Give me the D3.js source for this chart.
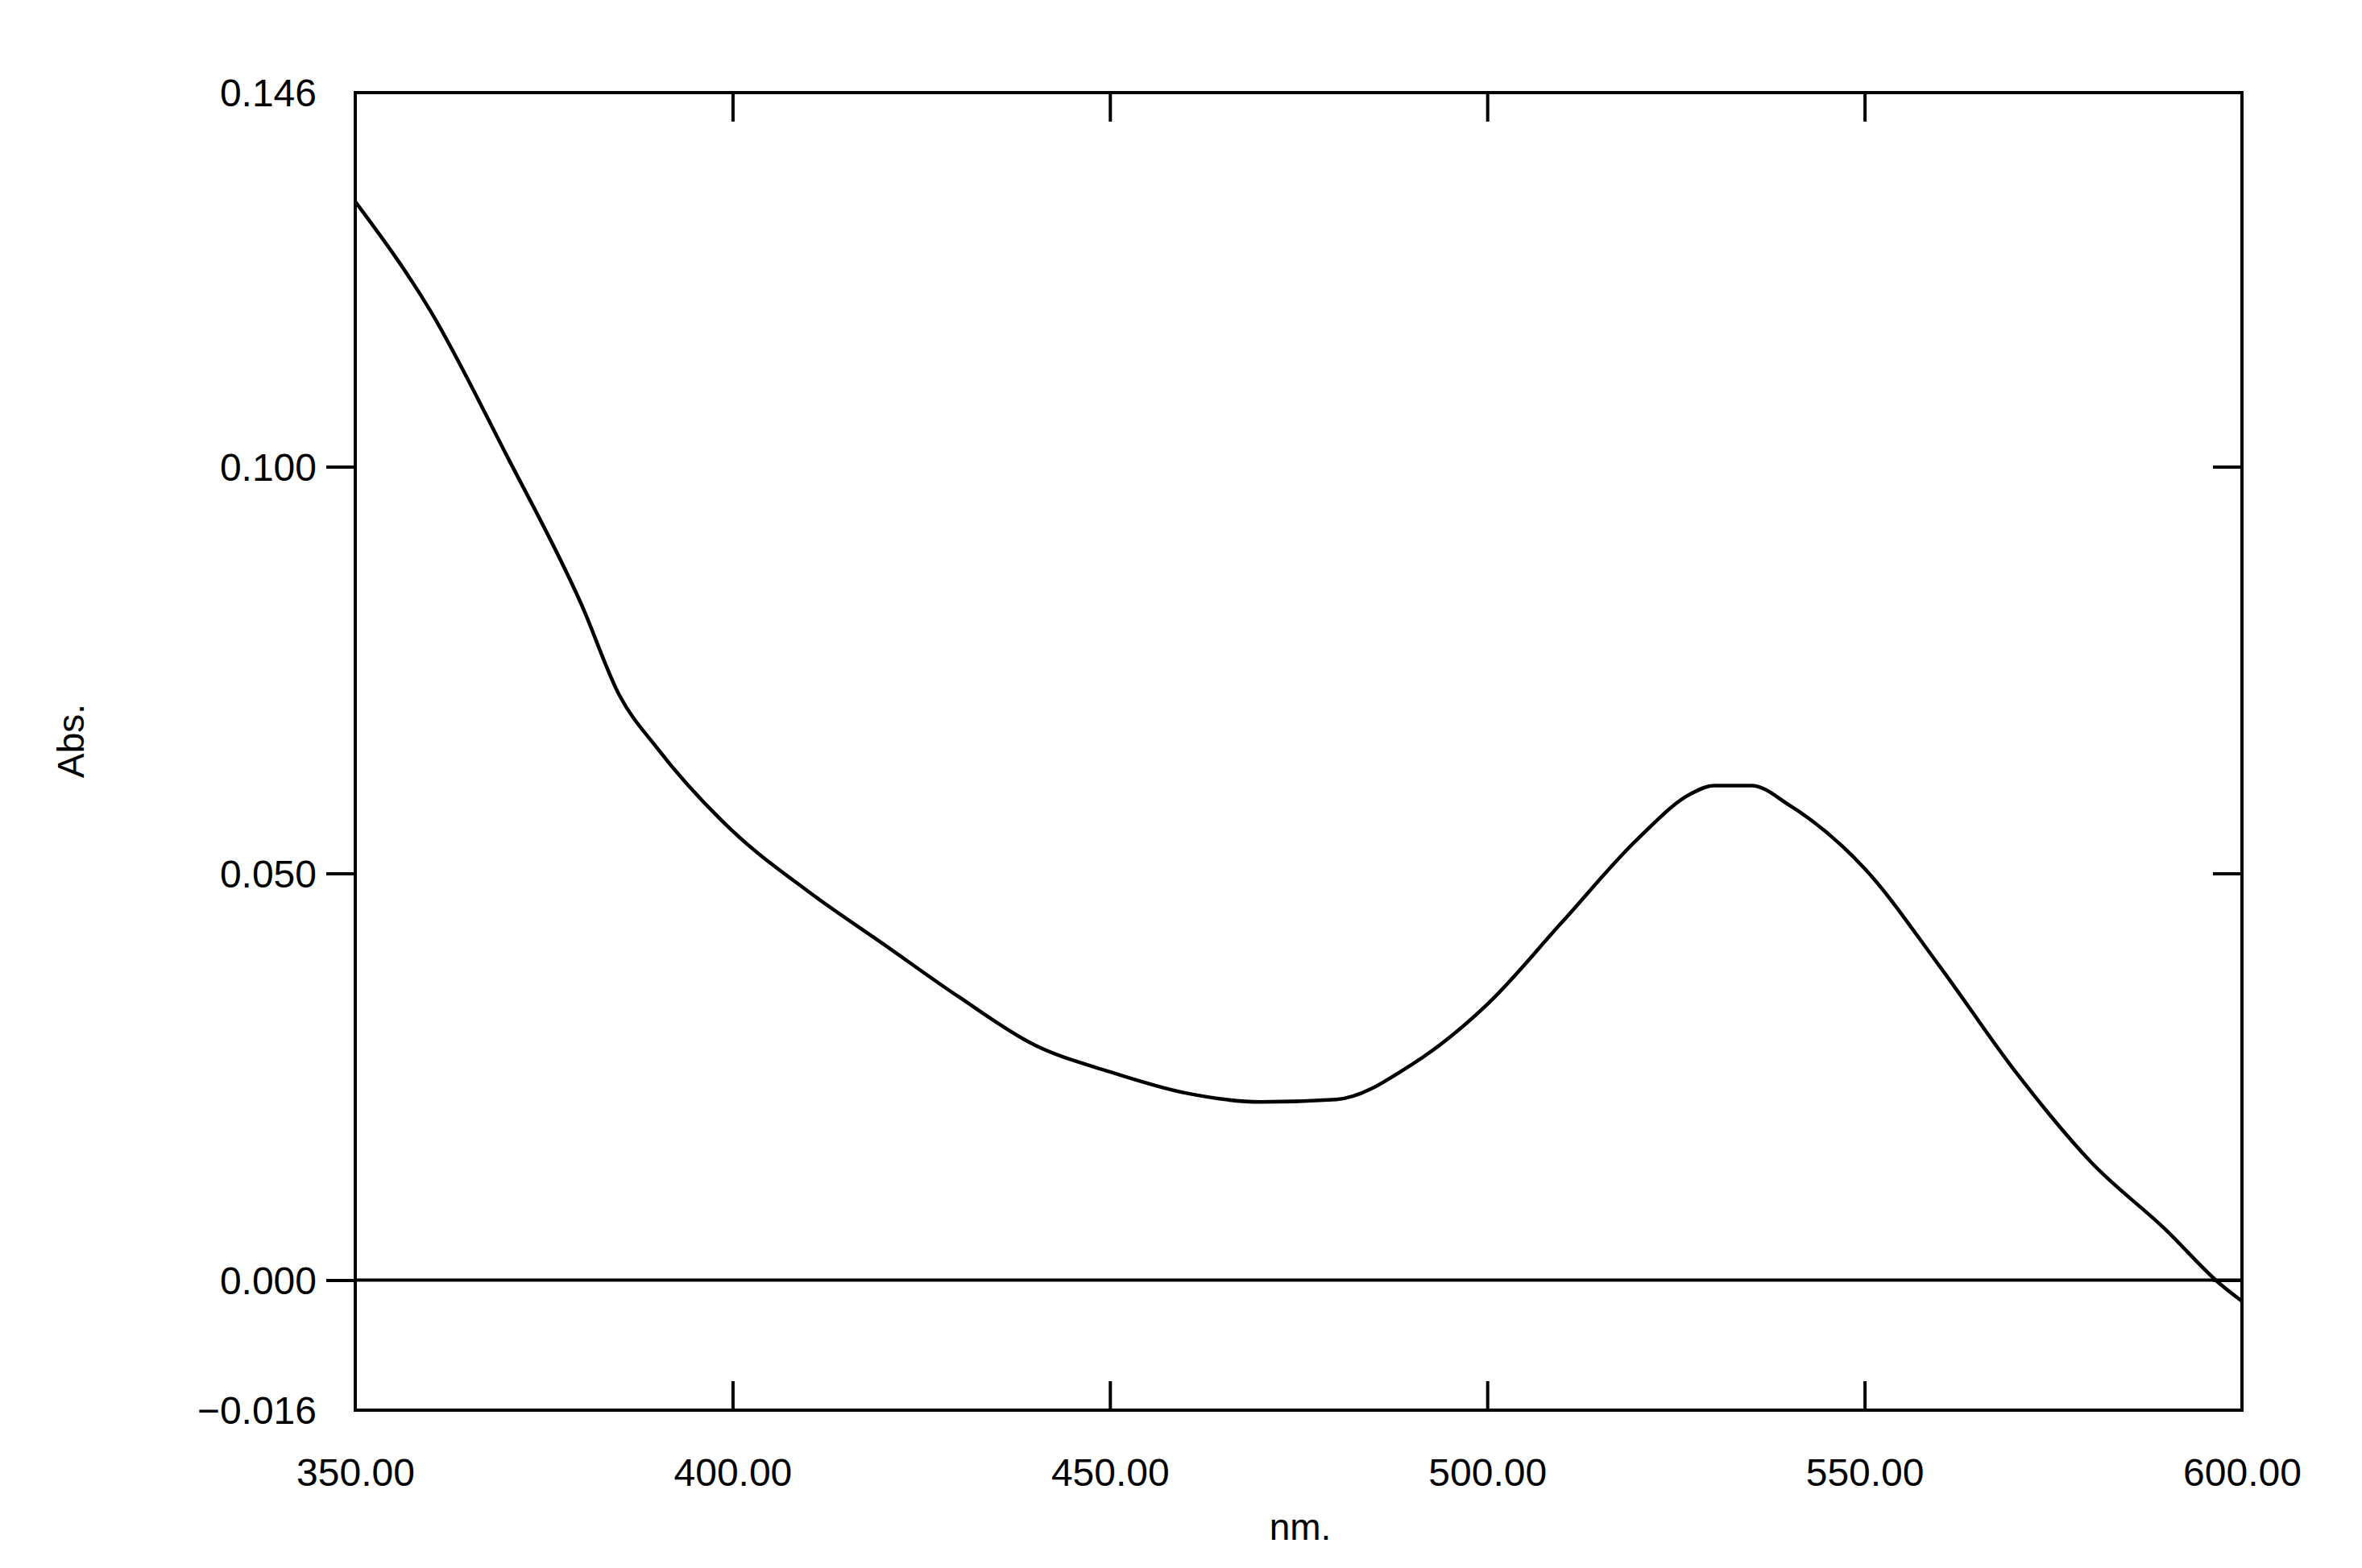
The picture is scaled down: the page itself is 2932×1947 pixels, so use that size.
<!DOCTYPE html>
<html><head><meta charset="utf-8">
<script src="https://cdn.jsdelivr.net/npm/d3@7"></script>
<style>body{margin:0;background:#fff}</style>
</head><body>
<svg id="c" width="2932" height="1947"></svg>
<script>
const wavelength = [350,360,370,380,385,390,400,410,420,430,440,450,460,470,480,490,500,510,520,527,530,535,540,550,560,570,580,590,597,600];
const absorbance = [0.1326,0.1191,0.1015,0.0830,0.0719,0.0654,0.0552,0.0478,0.0413,0.0348,0.0289,0.0256,0.0230,0.0219,0.0222,0.0265,0.0339,0.0441,0.0543,0.0598,0.0608,0.0608,0.0584,0.0506,0.0385,0.0256,0.0145,0.0061,-0.0004,-0.0026];
const xTicks = [350,400,450,500,550,600];
const yTicks = [-0.016,0,0.05,0.1,0.146];

const svg = d3.select("#c");
const L=441,R=2783,T=115,B=1751;
const x = d3.scaleLinear().domain([350,600]).range([L,R]);
const y = d3.scaleLinear().domain([-0.016,0.146]).range([B,T]);
const font = "Arial, 'Liberation Sans', sans-serif";
const sw = 4;

svg.append("rect").attr("x",L).attr("y",T).attr("width",R-L).attr("height",B-T)
  .attr("fill","none").attr("stroke","#000").attr("stroke-width",sw);

// x ticks (inner, top and bottom)
const gb = svg.append("g").attr("transform",`translate(0,${B})`)
  .call(d3.axisBottom(x).tickValues(xTicks).tickSize(-36).tickPadding(60).tickFormat(d3.format(".2f")));
const gt = svg.append("g").attr("transform",`translate(0,${T})`)
  .call(d3.axisTop(x).tickValues(xTicks.slice(1,-1)).tickSize(-36).tickFormat(""));
// y ticks left outside, right inside
const gl = svg.append("g").attr("transform",`translate(${L},0)`)
  .call(d3.axisLeft(y).tickValues(yTicks).tickSize(36).tickPadding(12).tickFormat(d=>d3.format(".3f")(d)));
const gr = svg.append("g").attr("transform",`translate(${R},0)`)
  .call(d3.axisRight(y).tickValues(yTicks.slice(1,-1)).tickSize(-36).tickFormat(""));
[gb,gt,gl,gr].forEach(g=>{
  g.select(".domain").remove();
  g.selectAll("line").attr("stroke","#000").attr("stroke-width",sw);
  g.selectAll("text").attr("font-family",font).attr("font-size",48).attr("fill","#000");
});
gl.selectAll(".tick").filter(d=>d===0.146||d===-0.016).select("line").remove();
gb.selectAll(".tick").filter(d=>d===350||d===600).select("line").remove();
gl.selectAll("text").attr("dy","0.35em");
gb.selectAll("text").attr("dy","0.7em");

// zero line
svg.append("line").attr("x1",L).attr("x2",R).attr("y1",y(0)).attr("y2",y(0))
  .attr("stroke","#000").attr("stroke-width",sw);

const line = d3.line().x((d,i)=>x(wavelength[i])).y(d=>y(d)).curve(d3.curveMonotoneX);
svg.append("path").attr("d",line(absorbance)).attr("fill","none")
  .attr("stroke","#000").attr("stroke-width",sw+0.5);

svg.append("text").attr("x",1614).attr("y",1912).attr("text-anchor","middle")
  .attr("font-family",font).attr("font-size",46).text("nm.");
svg.append("text").attr("transform","translate(104,920) rotate(-90)").attr("text-anchor","middle")
  .attr("font-family",font).attr("font-size",46).text("Abs.");
</script>
</body></html>
